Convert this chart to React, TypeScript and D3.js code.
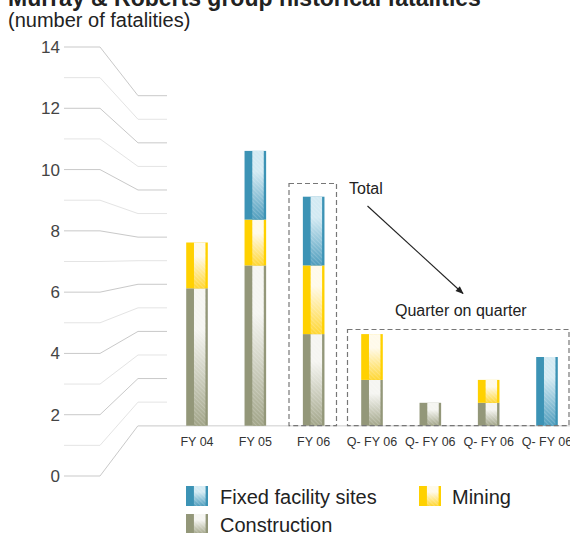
import * as d3 from 'd3';
import React, { useEffect, useRef } from 'react';

// bar keys / labels
const barKeys = ['fy04', 'fy05', 'fy06', 'q1', 'q2', 'q3', 'q4'];
const barLabels = ['FY 04', 'FY 05', 'FY 06', 'Q- FY 06', 'Q- FY 06', 'Q- FY 06', 'Q- FY 06'];

// series values (number of fatalities)
const construction = [6, 7, 4, 2, 1, 1, 0];
const mining = [2, 2, 3, 2, 0, 1, 0];
const fixedSites = [0, 3, 3, 0, 0, 0, 3];

const yTicks = d3.range(0, 15);
const seriesNames = ['Construction', 'Mining', 'Fixed facility sites'];

const colors = {
  'Construction': { solid: '#939779', top: '#f5f5f1', bottom: '#a2a589' },
  'Mining': { solid: '#ffd100', top: '#fffaea', bottom: '#ffd632' },
  'Fixed facility sites': { solid: '#3c93b5', top: '#d3eaf3', bottom: '#4f9dbd' },
};

const App = () => {
  const svgRef = useRef<SVGSVGElement>(null);

  useEffect(() => {
    const width = 570;
    const height = 533;
    const font = '"Liberation Sans", Arial, sans-serif';

    const svg = d3.select(svgRef.current);
    svg.selectAll('*').remove();
    svg.attr('width', width).attr('height', height);

    const defs = svg.append('defs');
    const hatch = defs.append('pattern')
      .attr('id', 'hatch')
      .attr('patternUnits', 'userSpaceOnUse')
      .attr('width', 3).attr('height', 3)
      .attr('patternTransform', 'rotate(-45)');
    hatch.append('line')
      .attr('x1', 0).attr('y1', 0).attr('x2', 0).attr('y2', 3)
      .attr('stroke', '#fff').attr('stroke-opacity', 0.35).attr('stroke-width', 1);

    seriesNames.forEach((name, i) => {
      const g = defs.append('linearGradient')
        .attr('id', `grad${i}`)
        .attr('x1', 0).attr('y1', 0).attr('x2', 0).attr('y2', 1);
      g.append('stop').attr('offset', '0%').attr('stop-color', colors[name].top);
      g.append('stop').attr('offset', '30%').attr('stop-color', colors[name].top);
      g.append('stop').attr('offset', '100%').attr('stop-color', colors[name].bottom);
    });

    // title (cut off at the top, as in the source)
    svg.append('text')
      .attr('x', 8).attr('y', 6)
      .attr('font-family', font).attr('font-weight', 'bold').attr('font-size', 23)
      .attr('fill', '#222')
      .text('Murray & Roberts group historical fatalities');
    svg.append('text')
      .attr('x', 8).attr('y', 27)
      .attr('font-family', font).attr('font-size', 20)
      .attr('fill', '#222')
      .text('(number of fatalities)');

    // scales: left axis, perspective right end, bars
    const baseY = 425.7;
    const yLeft = d3.scaleLinear().domain([0, 14]).range([476, 47]);
    const yRight = d3.scaleLinear().domain([0, 14]).range([baseY, 95.7]);
    const yBar = d3.scaleLinear().domain([0, 14]).range([baseY, baseY - 14 * 22.9]);
    const x = d3.scalePoint().domain(barKeys).range([197, 547]);
    const barW = 21.6;

    // perspective grid
    const grid = svg.append('g');
    yTicks.forEach(t => {
      const even = t % 2 === 0;
      const pts: [number, number][] = [
        [64, yLeft(t)], [100, yLeft(t)], [138, yRight(t)], [t === 0 ? 180 : 167, yRight(t)],
      ];
      grid.append('path')
        .attr('d', d3.line()(pts))
        .attr('fill', 'none')
        .attr('stroke', even ? '#c9c9c9' : '#e4e4e4')
        .attr('stroke-width', 1);
      if (even) {
        grid.append('text')
          .attr('x', 60).attr('y', yLeft(t))
          .attr('dy', '0.35em')
          .attr('text-anchor', 'end')
          .attr('font-family', font).attr('font-size', 17)
          .attr('fill', '#444')
          .text(t);
      }
    });

    // baseline
    svg.append('line')
      .attr('x1', 138).attr('x2', 570)
      .attr('y1', baseY).attr('y2', baseY)
      .attr('stroke', '#dedede').attr('stroke-width', 1.5);

    // stacked bars
    const rows = barKeys.map((k, i) => ({
      key: k,
      'Construction': construction[i],
      'Mining': mining[i],
      'Fixed facility sites': fixedSites[i],
    }));
    const stacked = d3.stack().keys(seriesNames)(rows as any);

    const drawSwatch = (g: any, x0: number, y0: number, w: number, h: number, si: number) => {
      const name = seriesNames[si];
      g.append('rect').attr('x', x0).attr('y', y0).attr('width', w).attr('height', h)
        .attr('fill', colors[name].solid);
      const ix = x0 + w * 0.36;
      const iw = w * 0.53;
      g.append('rect').attr('x', ix).attr('y', y0).attr('width', iw).attr('height', h)
        .attr('fill', `url(#grad${si})`);
      g.append('rect').attr('x', ix).attr('y', y0).attr('width', iw).attr('height', h)
        .attr('fill', 'url(#hatch)');
    };

    const bars = svg.append('g');
    stacked.forEach((layer, si) => {
      layer.forEach((d: any) => {
        if (d[1] - d[0] <= 0) return;
        const key = d.data.key;
        const x0 = x(key)! - barW / 2;
        drawSwatch(bars, x0, yBar(d[1]), barW, yBar(d[0]) - yBar(d[1]), si);
      });
    });

    // x labels
    svg.append('g').selectAll('text')
      .data(barKeys)
      .enter()
      .append('text')
      .attr('x', d => x(d)!)
      .attr('y', 446)
      .attr('text-anchor', 'middle')
      .attr('font-family', font).attr('font-size', 12.5)
      .attr('fill', '#333')
      .text((d, i) => barLabels[i]);

    // dashed boxes
    const dash = '5,3';
    svg.append('rect')
      .attr('x', 289).attr('y', 183.5).attr('width', 47.5).attr('height', baseY - 183.5)
      .attr('fill', 'none').attr('stroke', '#777').attr('stroke-width', 1.2)
      .attr('stroke-dasharray', dash);
    svg.append('rect')
      .attr('x', 347.5).attr('y', 329.5).attr('width', 221.5).attr('height', baseY - 329.5)
      .attr('fill', 'none').attr('stroke', '#777').attr('stroke-width', 1.2)
      .attr('stroke-dasharray', dash);

    // annotations
    svg.append('text')
      .attr('x', 349).attr('y', 194)
      .attr('font-family', font).attr('font-size', 16).attr('fill', '#222')
      .text('Total');
    svg.append('text')
      .attr('x', 395).attr('y', 316)
      .attr('font-family', font).attr('font-size', 16).attr('fill', '#222')
      .text('Quarter on quarter');

    defs.append('marker')
      .attr('id', 'arrow')
      .attr('viewBox', '0 0 10 10')
      .attr('refX', 9).attr('refY', 5)
      .attr('markerWidth', 10).attr('markerHeight', 8)
      .attr('markerUnits', 'userSpaceOnUse')
      .attr('orient', 'auto')
      .append('path').attr('d', 'M0,1 L10,5 L0,9 Z').attr('fill', '#222');
    svg.append('line')
      .attr('x1', 367.5).attr('y1', 206).attr('x2', 463).attr('y2', 293.5)
      .attr('stroke', '#222').attr('stroke-width', 1.1)
      .attr('marker-end', 'url(#arrow)');

    // legend
    const legendItems = [
      { si: 2, x: 186, y: 486, tx: 220, ty: 504 },
      { si: 1, x: 419, y: 486, tx: 452, ty: 504 },
      { si: 0, x: 186, y: 514, tx: 220, ty: 532 },
    ];
    const legend = svg.append('g');
    legendItems.forEach(item => {
      drawSwatch(legend, item.x, item.y, 22, 20, item.si);
      legend.append('text')
        .attr('x', item.tx).attr('y', item.ty)
        .attr('font-family', font).attr('font-size', 20).attr('fill', '#222')
        .text(seriesNames[item.si]);
    });
  }, []);

  return <svg ref={svgRef} style={{ position: 'absolute', left: 0, top: 0, display: 'block' }}></svg>;
};

export default App;
